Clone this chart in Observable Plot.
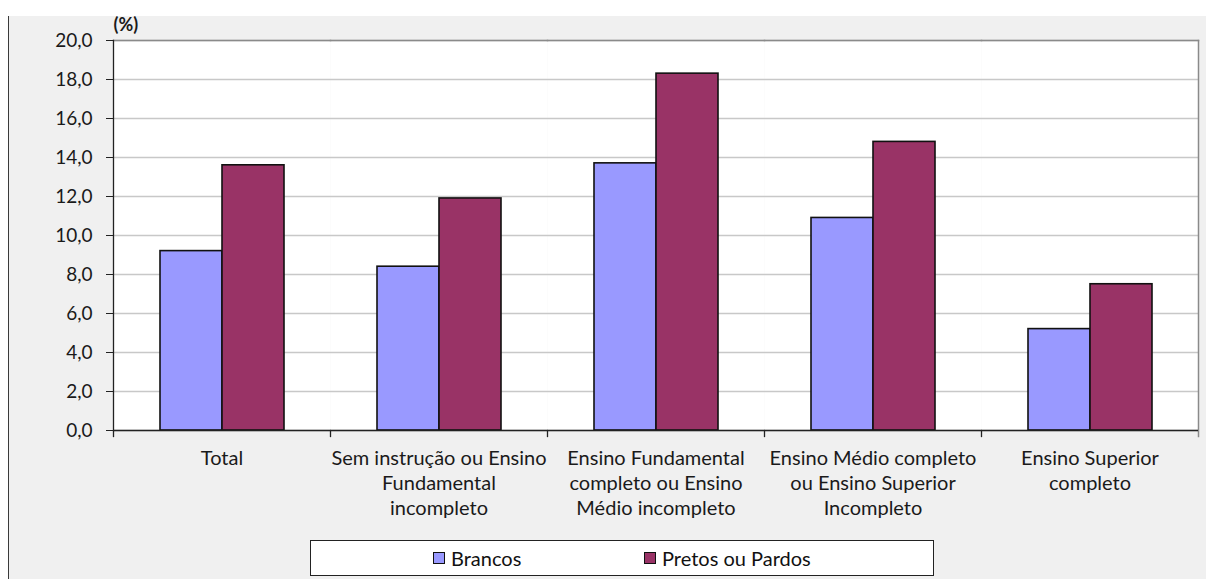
<!DOCTYPE html>
<html><head><meta charset="utf-8">
<script src="https://cdn.jsdelivr.net/npm/d3@7"></script>
<script src="https://cdn.jsdelivr.net/npm/@observablehq/plot@0.6"></script>
<style>
body{margin:0;background:#fff;width:1206px;height:579px;overflow:hidden;font-family:Lato,"Open Sans",sans-serif;}
#panel{position:absolute;left:8px;top:16px;width:1198px;height:563px;background:#f0f0f0;border-left:1px solid #3a3a3a;}
#chart{position:absolute;left:0;top:0;}
#legend{position:absolute;left:301px;top:524px;width:622px;height:34px;background:#fff;border:1px solid #222;font-size:20px;color:#111;}
.item{position:absolute;top:0;height:34px;display:flex;align-items:center;}
.sw{width:10px;height:10px;border:1.5px solid #111;margin-right:6px;}
</style>
</head><body>
<div id="panel"><div id="chart"></div><div id="legend"></div></div>
<script>
const categories = ["Total", "Sem instrução ou Ensino\nFundamental\nincompleto", "Ensino Fundamental\ncompleto ou Ensino\nMédio incompleto", "Ensino Médio completo\nou Ensino Superior\nIncompleto", "Ensino Superior\ncompleto"];
const series = ["Brancos", "Pretos ou Pardos"];
const brancos = [9.2, 8.4, 13.7, 10.9, 5.2];
const pretos = [13.6, 11.9, 18.3, 14.8, 7.5];
const colors = ["#9999ff", "#993366"];
const yTicks = [0, 2, 4, 6, 8, 10, 12, 14, 16, 18, 20];
const unitLabel = "(%)";

const data = categories.flatMap((c, i) => [
  {cat: c, serie: series[0], value: brancos[i]},
  {cat: c, serie: series[1], value: pretos[i]}
]);

const W = 1197, H = 520, mL = 103, mR = 8, mT = 24, mB = 106;
const innerH = H - mT - mB;

const chart = Plot.plot({
  width: W, height: H, marginLeft: mL, marginRight: mR, marginTop: mT, marginBottom: mB,
  style: {background: "transparent", fontFamily: "Lato, 'Open Sans', sans-serif", fontSize: "19px", color: "#1a1a1a", overflow: "visible"},
  fx: {domain: categories, padding: 0, label: null},
  x: {domain: series, paddingInner: 0, paddingOuter: 0.75, axis: null},
  y: {domain: [0, 20], label: null},
  color: {domain: series, range: colors},
  marks: [
    Plot.frame({fill: "#fff", stroke: "none"}),
    Plot.gridY(yTicks, {stroke: "#c8c8c8", strokeOpacity: 1, strokeWidth: 1.3}),
    Plot.frame({anchor: "top", stroke: "#8a8a8a", strokeWidth: 1.5}),
    Plot.frame({anchor: "right", stroke: "#8a8a8a", strokeWidth: 1.5, facetAnchor: "right", insetBottom: -6}),
    Plot.frame({anchor: "left", stroke: "#222", strokeWidth: 1.3, insetTop: innerH, insetBottom: -6}),
    Plot.barY(data, {fx: "cat", x: "serie", y: "value", fill: "serie", stroke: "#111", strokeWidth: 1.6}),
    Plot.ruleY([0], {stroke: "#222", strokeWidth: 1.3}),
    Plot.frame({anchor: "left", stroke: "#222", strokeWidth: 1.3, facetAnchor: "left"}),
    Plot.axisY(yTicks, {tickSize: 7, tickPadding: 14, tickFormat: d => d.toFixed(1).replace(".", ","), label: null, stroke: "#222", fill: "#1a1a1a", fontSize: 19}),
    Plot.axisFx({anchor: "bottom", tickSize: 0, tickPadding: 17, label: null, lineHeight: 1.25, fill: "#1a1a1a", fontSize: 20}),
    Plot.text([unitLabel], {fx: () => categories[0], frameAnchor: "top-left", textAnchor: "start", lineAnchor: "middle", dy: -15, fontWeight: "bold", fontSize: 18, fill: "#1a1a1a"})
  ]
});
document.getElementById("chart").appendChild(chart);

const legend = document.getElementById("legend");
const lefts = [122, 333];
series.forEach((s, i) => {
  const it = document.createElement("div");
  it.className = "item";
  it.style.left = lefts[i] + "px";
  const sw = document.createElement("span");
  sw.className = "sw";
  sw.style.background = colors[i];
  const t = document.createElement("span");
  t.textContent = s;
  it.appendChild(sw); it.appendChild(t);
  legend.appendChild(it);
});
</script>
</body></html>
